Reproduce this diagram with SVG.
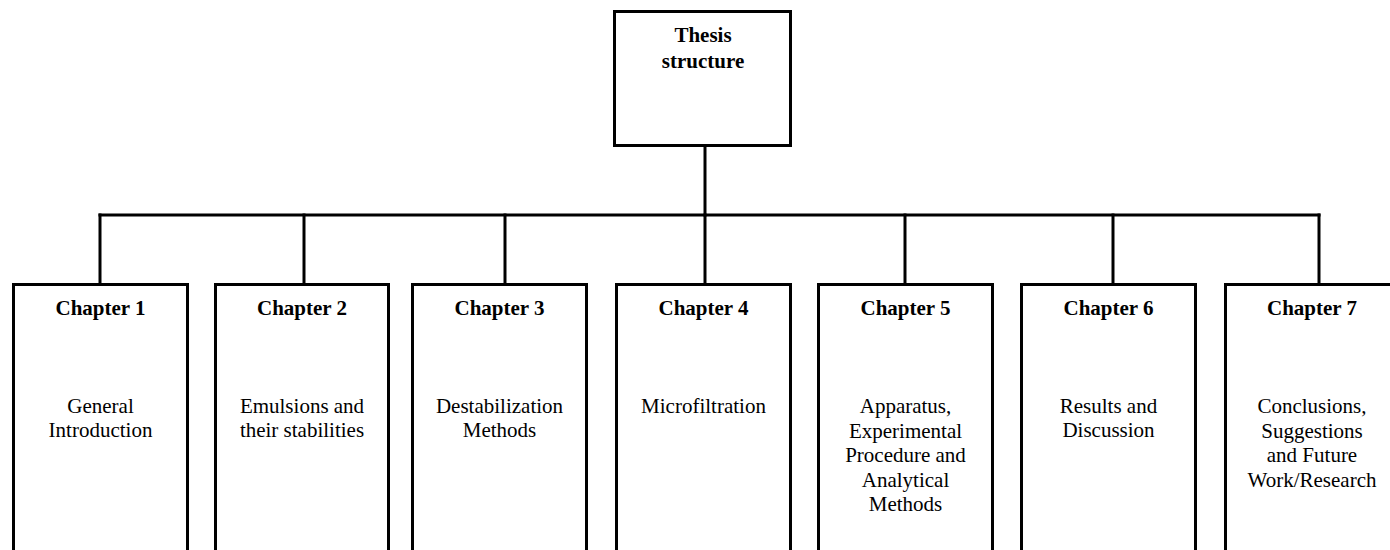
<svg xmlns="http://www.w3.org/2000/svg" width="1390" height="550" viewBox="0 0 1390 550">
  <style>
    .box { fill: #ffffff; stroke: #000000; stroke-width: 3; }
    .wire { fill: none; stroke: #000000; stroke-width: 3; stroke-linecap: square; }
    .title { font-family: "Liberation Serif", "Times New Roman", serif; font-size: 21px; font-weight: bold; text-anchor: middle; fill: #000000; }
    .body { font-family: "Liberation Serif", "Times New Roman", serif; font-size: 21px; text-anchor: middle; fill: #000000; }
  </style>
  <rect width="1390" height="550" fill="#ffffff"/>

  <!-- tree connectors -->
  <g id="connectors">
    <line class="wire" x1="705" y1="146" x2="705" y2="215"/>
    <line class="wire" x1="100" y1="215" x2="1319" y2="215"/>
    <line class="wire" x1="100" y1="215" x2="100" y2="283"/>
    <line class="wire" x1="304" y1="215" x2="304" y2="283"/>
    <line class="wire" x1="505" y1="215" x2="505" y2="283"/>
    <line class="wire" x1="705" y1="215" x2="705" y2="283"/>
    <line class="wire" x1="905" y1="215" x2="905" y2="283"/>
    <line class="wire" x1="1113" y1="215" x2="1113" y2="283"/>
    <line class="wire" x1="1319" y1="215" x2="1319" y2="283"/>
  </g>

  <!-- root -->
  <g id="thesis">
    <rect class="box" x="614.5" y="11.5" width="176" height="134"/>
    <text class="title" x="703" y="42">Thesis</text>
    <text class="title" x="703" y="68">structure</text>
  </g>

  <!-- chapters -->
  <g id="chapter1">
    <rect class="box" x="13.5" y="284.5" width="174" height="290"/>
    <text class="title" x="100.5" y="315">Chapter 1</text>
    <text class="body" x="100.5" y="413">General</text>
    <text class="body" x="100.5" y="437">Introduction</text>
  </g>

  <g id="chapter2">
    <rect class="box" x="215.5" y="284.5" width="173" height="290"/>
    <text class="title" x="302" y="315">Chapter 2</text>
    <text class="body" x="302" y="413">Emulsions and</text>
    <text class="body" x="302" y="437">their stabilities</text>
  </g>

  <g id="chapter3">
    <rect class="box" x="412.5" y="284.5" width="174" height="290"/>
    <text class="title" x="499.5" y="315">Chapter 3</text>
    <text class="body" x="499.5" y="413">Destabilization</text>
    <text class="body" x="499.5" y="437">Methods</text>
  </g>

  <g id="chapter4">
    <rect class="box" x="616.5" y="284.5" width="174" height="290"/>
    <text class="title" x="703.5" y="315">Chapter 4</text>
    <text class="body" x="703.5" y="413">Microfiltration</text>
  </g>

  <g id="chapter5">
    <rect class="box" x="818.5" y="284.5" width="174" height="290"/>
    <text class="title" x="905.5" y="315">Chapter 5</text>
    <text class="body" x="905.5" y="413">Apparatus,</text>
    <text class="body" x="905.5" y="437.5">Experimental</text>
    <text class="body" x="905.5" y="462">Procedure and</text>
    <text class="body" x="905.5" y="486.5">Analytical</text>
    <text class="body" x="905.5" y="511">Methods</text>
  </g>

  <g id="chapter6">
    <rect class="box" x="1021.5" y="284.5" width="174" height="290"/>
    <text class="title" x="1108.5" y="315">Chapter 6</text>
    <text class="body" x="1108.5" y="413">Results and</text>
    <text class="body" x="1108.5" y="437">Discussion</text>
  </g>

  <g id="chapter7">
    <rect class="box" x="1225.5" y="284.5" width="174" height="290"/>
    <text class="title" x="1312" y="315">Chapter 7</text>
    <text class="body" x="1312" y="413">Conclusions,</text>
    <text class="body" x="1312" y="437.5">Suggestions</text>
    <text class="body" x="1312" y="462">and Future</text>
    <text class="body" x="1312" y="486.5">Work/Research</text>
  </g>
</svg>
